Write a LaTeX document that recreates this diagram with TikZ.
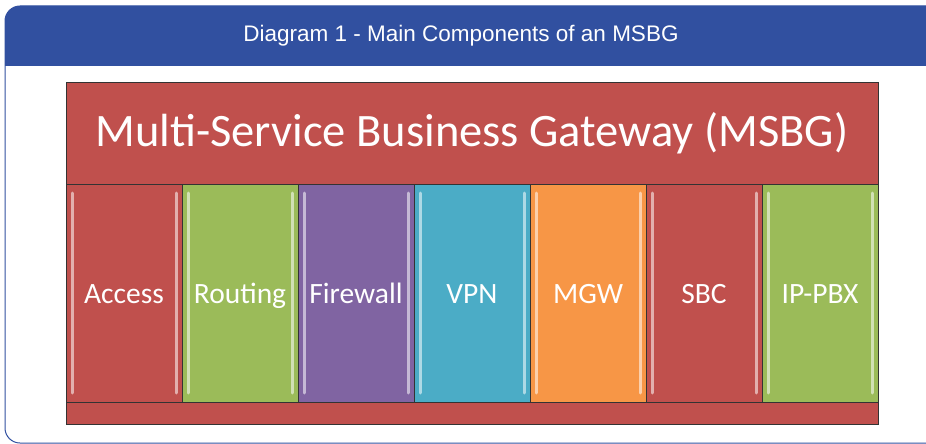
\documentclass[tikz,border=0pt]{standalone}
\usepackage{fontspec}
\setmainfont{Carlito}
\newfontfamily\headfont{Liberation Sans}
\usetikzlibrary{positioning}

\definecolor{msbgred}{HTML}{C0504D}
\definecolor{msbggreen}{HTML}{9BBB59}
\definecolor{msbgpurple}{HTML}{8064A2}
\definecolor{msbgblue}{HTML}{4BACC6}
\definecolor{msbgorange}{HTML}{F79646}
\definecolor{bandblue}{HTML}{3150A0}

\begin{document}
\begin{tikzpicture}[x=1pt, y=-1pt, semithick,
		block/.style={draw=black!80, inner sep=0pt, outer sep=0pt, minimum width=116pt, minimum height=218pt, text height=26pt, text depth=6pt, text=white, font=\fontsize{29.5}{29.5}\selectfont},
		band/.style={draw=black!80, fill=msbgred, inner sep=0pt, outer sep=0pt, minimum width=812pt},
		glint/.style={white, opacity=0.55, line width=3pt, line cap=round}]
		\useasboundingbox (0,0) rectangle (926,444);
		
		% frame and heading band
		\fill[bandblue] (5,66) -- (5,21) arc[start angle=180, end angle=270, radius=15] -- (940,6) -- (940,66) -- cycle;
		\draw[bandblue, line width=1pt, rounded corners=15pt] (940,443) -- (5,443) -- (5,6) -- (940,6);
		\node[text=white, font=\headfont\fontsize{22.5}{22.5}\selectfont] (head) at (461,36) {Diagram 1 - Main Components of an MSBG};
		
		\node[band, minimum height=102pt, text=white, font=\fontsize{46.5}{46.5}\selectfont] (msbg) at (472,133) {Multi-Service Business Gateway (MSBG)};
		\node[band, minimum height=22pt] (base) at (472,413) {};
		
		\node[block, fill=msbgred] (access) at (124,293) {Access};
		\node[block, fill=msbggreen, right=0pt of access] (routing) {Routing};
		\node[block, fill=msbgpurple, right=0pt of routing] (firewall) {Firewall};
		\node[block, fill=msbgblue, right=0pt of firewall] (vpn) {VPN};
		\node[block, fill=msbgorange, right=0pt of vpn] (mgw) {MGW};
		\node[block, fill=msbgred, right=0pt of mgw] (sbc) {SBC};
		\node[block, fill=msbggreen, right=0pt of sbc] (ippbx) {IP-PBX};
		
		\foreach \n in {access, routing, firewall, vpn, mgw, sbc, ippbx} {
			\draw[glint] ([xshift=6pt, yshift=-9pt]\n.north west) -- ([xshift=6pt, yshift=9pt]\n.south west);
			\draw[glint] ([xshift=-6pt, yshift=-9pt]\n.north east) -- ([xshift=-6pt, yshift=9pt]\n.south east);
		}
		
	\end{tikzpicture}
\end{document}
